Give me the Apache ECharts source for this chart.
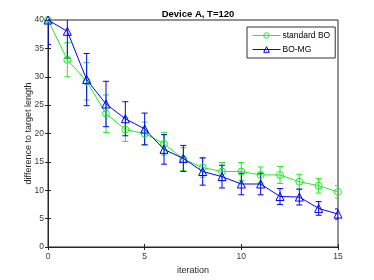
<!DOCTYPE html>
<html>
<head>
<meta charset="utf-8">
<script src="https://cdn.jsdelivr.net/npm/echarts@6/dist/echarts.min.js"></script>
<style>html,body{margin:0;padding:0;background:#fff;}#c{width:374px;height:280px;}</style>
</head>
<body>
<div id="c"></div>
<script>
var iterations = [0,1,2,3,4,5,6,7,8,9,10,11,12,13,14,15];
var stdMean = [40, 33.0, 29.2, 23.5, 20.7, 20.0, 18.2, 15.5, 14.0, 13.3, 13.3, 12.7, 12.7, 11.5, 10.8, 9.7];
var stdErr  = [0, 3.0, 3.3, 3.3, 2.1, 2.0, 2.0, 2.0, 1.7, 1.6, 1.6, 1.4, 1.5, 1.3, 1.3, 1.1];
var mgMean  = [40, 38.0, 29.5, 25.2, 22.6, 20.8, 17.2, 15.6, 13.3, 12.4, 11.1, 11.1, 8.9, 8.8, 6.8, 5.8];
var mgErr   = [4.3, 4.7, 4.6, 4.0, 3.0, 2.8, 2.6, 2.3, 2.4, 2.0, 1.9, 1.9, 1.4, 1.4, 1.2, 0.9];
var xTicks = [0,5,10,15];
var yTicks = [0,5,10,15,20,25,30,35,40];
var seriesNames = ['standard BO','BO-MG'];
var GREEN = '#22ee22', BLUE = '#0000ff';

function pairs(m){ return iterations.map(function(x,i){ return [x, m[i]]; }); }
function errData(m,e){ return iterations.map(function(x,i){ return [x, m[i]-e[i], m[i]+e[i]]; }); }
function errSeries(id, m, e, color){
  return {
    type:'custom', name:id, clip:true, silent:true, z:2,
    data: errData(m,e),
    renderItem: function(params, api){
      var x = api.value(0), lo = api.value(1), hi = api.value(2);
      var p1 = api.coord([x, hi]), p2 = api.coord([x, lo]);
      var w = 3;
      var st = {stroke: color, lineWidth: 1};
      return {type:'group', children:[
        {type:'line', shape:{x1:p1[0],y1:p1[1],x2:p2[0],y2:p2[1]}, style:st},
        {type:'line', shape:{x1:p1[0]-w,y1:p1[1],x2:p1[0]+w,y2:p1[1]}, style:st},
        {type:'line', shape:{x1:p2[0]-w,y1:p2[1],x2:p2[0]+w,y2:p2[1]}, style:st}
      ]};
    }
  };
}
var axisCol = '#262626';
var chart = echarts.init(document.getElementById('c'), null, {renderer:'canvas'});
chart.setOption({
  animation:false,
  backgroundColor:'#fff',
  title:{text:'Device A, T=120', left:193, top:4, textAlign:'center',
    textStyle:{fontFamily:'Liberation Sans', fontSize:9.5, fontWeight:'bold', color:'#000'}},
  grid:{left:48, right:36, top:20, bottom:32, show:true, borderColor:axisCol, borderWidth:1},
  legend:{
    data:seriesNames, left:247, top:27, orient:'vertical',
    itemWidth:28, itemHeight:7, itemGap:5,
    padding:[4,5,4,5], borderColor:'#333', borderWidth:1, backgroundColor:'#fff',
    itemStyle:{borderWidth:1},
    lineStyle:{width:1},
    textStyle:{fontFamily:'Liberation Sans', fontSize:8.5, color:'#000', padding:[0,0,0,-3]}
  },
  xAxis:[{
    type:'value', min:0, max:15, interval:5, position:'bottom',
    name:'iteration', nameLocation:'middle', nameGap:19, nameMoveOverlap:false,
    nameTextStyle:{fontFamily:'Liberation Sans', fontSize:9, color:'#262626'},
    axisLine:{show:true, lineStyle:{color:axisCol}},
    axisTick:{show:true, inside:true, length:3, lineStyle:{color:axisCol}},
    axisLabel:{fontFamily:'Liberation Sans', fontSize:8.5, color:'#3a3a3a', margin:5},
    splitLine:{show:false}
  },{
    type:'value', min:0, max:15, interval:5, position:'top',
    axisLine:{show:true, lineStyle:{color:axisCol}},
    axisTick:{show:true, inside:true, length:3, lineStyle:{color:axisCol}},
    axisLabel:{show:false}, splitLine:{show:false}
  }],
  yAxis:[{
    type:'value', min:0, max:40, interval:5, position:'left',
    name:'difference to target length', nameLocation:'middle', nameGap:15, nameMoveOverlap:false,
    nameTextStyle:{fontFamily:'Liberation Sans', fontSize:9, color:'#262626'},
    axisLine:{show:true, lineStyle:{color:axisCol}},
    axisTick:{show:true, inside:true, length:3, lineStyle:{color:axisCol}},
    axisLabel:{fontFamily:'Liberation Sans', fontSize:8.5, color:'#3a3a3a', margin:4},
    splitLine:{show:false}
  },{
    type:'value', min:0, max:40, interval:5, position:'right',
    axisLine:{show:true, lineStyle:{color:axisCol}},
    axisTick:{show:true, inside:true, length:3, lineStyle:{color:axisCol}},
    axisLabel:{show:false}, splitLine:{show:false}
  }],
  series:[
    errSeries('err-std', stdMean, stdErr, GREEN),
    errSeries('err-mg', mgMean, mgErr, BLUE),
    {type:'line', name:seriesNames[0], data:pairs(stdMean), symbol:'circle', symbolSize:7,
      lineStyle:{color:GREEN, width:1}, itemStyle:{color:'rgba(0,0,0,0)', borderColor:GREEN, borderWidth:1}, z:3},
    {type:'line', name:seriesNames[1], data:pairs(mgMean), symbol:'triangle', symbolSize:8,
      lineStyle:{color:BLUE, width:1}, itemStyle:{color:'rgba(0,0,0,0)', borderColor:BLUE, borderWidth:1}, z:4}
  ]
});
</script>
</body>
</html>
